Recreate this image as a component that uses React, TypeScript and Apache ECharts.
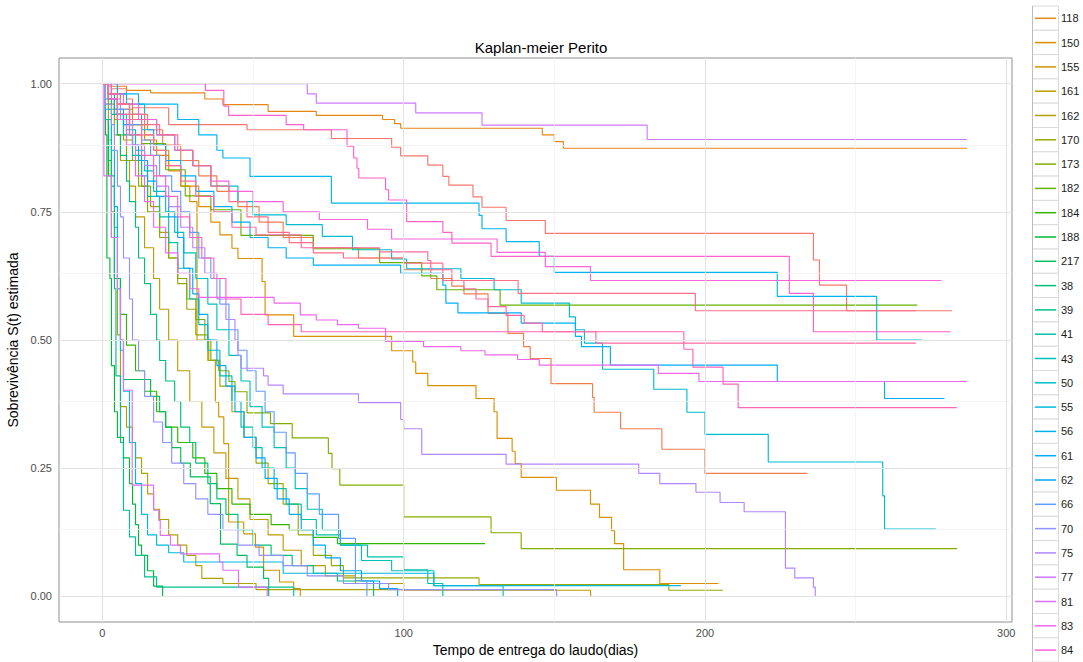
import React, { useEffect, useRef } from "react";
import * as echarts from "echarts";

// ---- data: Kaplan-Meier step points [time (days), S(t)] per group ----
const levels = ["101","112","118","150","155","161","162","170","173","182","184","188","217","38","39","41","43","50","55","56","61","62","66","70","75","77","81","83","84","86","87","9","94"];
const legendShown = ["118","150","155","161","162","170","173","182","184","188","217","38","39","41","43","50","55","56","61","62","66","70","75","77","81","83","84"];

const c101 = [[0,1],[3,0.99],[8,0.97],[10,0.953],[22,0.92],[48,0.91],[76,0.893],[96,0.876],[99,0.859],[108,0.841],[113,0.819],[115,0.802],[123,0.779],[126,0.759],[134,0.733],[147,0.708],[236,0.656],[238,0.607],[247,0.557],[282,0.557]];
const c112 = [[0,1],[2,0.98],[6,0.96],[10,0.94],[15,0.91],[20,0.88],[26,0.85],[32,0.82],[38,0.79],[45,0.76],[52,0.73],[60,0.7],[70,0.68],[85,0.66],[100,0.637],[109,0.62],[116,0.605],[120,0.59],[128,0.552],[134.6,0.513],[139.8,0.487],[142,0.464],[148.9,0.415],[162.7,0.388],[163.2,0.359],[172,0.327],[185.7,0.287],[200,0.24],[234,0.24]];
const c118 = [[0,1],[2,0.995],[8,0.987],[16,0.982],[34,0.97],[40,0.959],[55,0.946],[71,0.938],[93,0.93],[97,0.922],[99,0.913],[146,0.9],[150,0.887],[153,0.874],[287,0.874]];
const c150 = [[0,1],[2,0.98],[6,0.95],[10,0.92],[14,0.89],[18,0.86],[22,0.83],[26,0.8],[32,0.76],[36,0.73],[39,0.705],[43,0.679],[45,0.659],[53,0.614],[54,0.549],[63.5,0.507],[96,0.479],[103,0.457],[104,0.435],[108,0.411],[124,0.386],[130,0.36],[131,0.308],[136,0.283],[137,0.259],[139,0.232],[150.7,0.207],[162,0.18],[165,0.154],[169,0.128],[170,0.103],[173,0.052],[185,0.025],[204.5,0.025]];
const c155 = [[0,1],[2,0.97],[5,0.94],[9,0.92],[14,0.9],[17,0.87],[22,0.84],[26,0.8],[29,0.77],[31.4,0.5],[35.3,0.46],[37.5,0.379],[38.6,0.35],[40.3,0.298],[41.9,0.145],[46.9,0.122],[50.8,0.096],[53.5,0.051],[58.8,0.028],[63.5,0.015],[65.7,0]];
const c161 = [[0,1],[2,0.96],[4,0.9],[6,0.85],[9,0.8],[11,0.74],[14,0.68],[17,0.62],[19,0.56],[22,0.5],[25,0.44],[29,0.38],[33,0.33],[37,0.28],[41,0.23],[45,0.19],[49,0.15],[55,0.12],[60,0.09],[66,0.06],[74,0.04],[84,0.025],[100,0.012],[162,0.012],[162.1,0]];
const c162 = [[0,1],[1,0.96],[2,0.89],[3,0.75],[4,0.62],[5,0.51],[6,0.37],[8,0.33],[10,0.3],[11,0.27],[13,0.24],[15,0.2],[17,0.17],[19,0.15],[22,0.12],[25,0.1],[28,0.08],[31,0.06],[33,0.035],[40,0.025],[51,0.013],[100,0.013]];
const c170 = [[0,1],[2,0.97],[4,0.93],[7,0.89],[10,0.85],[13,0.8],[16,0.76],[19,0.71],[22,0.66],[25,0.61],[28,0.56],[31,0.51],[35,0.46],[39,0.41],[43,0.36],[47,0.31],[51,0.26],[55,0.22],[60,0.18],[65,0.12],[70,0.08],[76,0.06],[80,0.036],[125,0.023],[188,0.012],[206,0.012]];
const c173 = [[0,1],[2,0.95],[5,0.9],[8,0.85],[12,0.8],[15,0.75],[19,0.7],[22,0.66],[25,0.62],[28,0.58],[31,0.54],[34,0.5],[36,0.461],[38.6,0.44],[42,0.419],[44,0.399],[48,0.358],[55.8,0.337],[63,0.309],[75,0.279],[76.2,0.249],[78.8,0.217],[100,0.155],[129,0.124],[139,0.093],[283.6,0.093]];
const c182 = [[0,1],[2,0.97],[5,0.93],[9,0.9],[13,0.883],[21,0.832],[27.5,0.781],[36,0.754],[46,0.704],[70,0.678],[92,0.651],[106,0.625],[111,0.598],[132,0.568],[270.5,0.568]];
const c184 = [[0,1],[1,0.93],[2,0.82],[3,0.7],[4,0.62],[6,0.55],[8,0.49],[11,0.44],[14,0.4],[18,0.36],[21,0.33],[25,0.3],[30,0.27],[34,0.24],[38,0.21],[43,0.18],[49,0.16],[56,0.14],[62,0.13],[70,0.115],[78,0.103],[127,0.103]];
const c188 = [[0,1],[1,0.9],[1.5,0.66],[2.5,0.62],[3,0.45],[4,0.36],[5,0.31],[7,0.27],[9,0.22],[10,0.18],[11,0.14],[12,0.1],[13,0.08],[15,0.05],[17,0.02],[20,0]];
const c217 = [[0,1],[1,0.93],[2,0.85],[3,0.8],[4,0.72],[5,0.62],[6,0.5],[7,0.423],[16,0.39],[19,0.36],[21,0.33],[23,0.29],[26,0.26],[29.2,0.233],[35.8,0.181],[39.2,0.102],[44.7,0.08],[48,0.057],[53.5,0.035],[55.2,0]];
const c38 = [[0,1],[1,0.97],[3,0.94],[5,0.9],[6,0.86],[8,0.81],[9,0.77],[11,0.72],[12,0.66],[14,0.61],[16,0.55],[18,0.5],[19,0.46],[21,0.42],[24,0.38],[26,0.33],[29,0.3],[31,0.26],[35,0.22],[38,0.19],[41,0.16],[45,0.13],[50,0.1],[56,0.08],[63,0.06],[70,0.045],[78,0.03],[90,0]];
const c39 = [[0,1],[1,0.93],[3,0.82],[4,0.6],[4.5,0.43],[6,0.3],[7,0.168],[9,0.116],[11,0.08],[14,0.038],[18,0.018],[63,0.018],[63.5,0]];
const c41 = [[0,1],[2,0.97],[5,0.94],[7,0.9],[10,0.86],[13,0.82],[15,0.78],[19,0.74],[22,0.69],[25,0.64],[29,0.58],[32,0.53],[35,0.48],[39,0.43],[43,0.38],[46,0.33],[50,0.29],[53,0.25],[57,0.21],[61,0.18],[66,0.15],[71,0.12],[79,0.1],[88,0.077],[100,0.052],[108,0.025],[113,0]];
const c43 = [[0,1],[2,0.97],[4,0.94],[8,0.91],[11,0.87],[14,0.83],[17,0.79],[21,0.75],[24,0.71],[27,0.67],[31,0.62],[35,0.57],[38,0.52],[42,0.47],[46,0.42],[49,0.37],[53,0.33],[57,0.29],[61,0.25],[64,0.21],[68,0.17],[73,0.13],[79,0.1],[86,0.07],[96,0.05],[110,0.021],[133,0]];
const c50 = [[0,1],[3,0.98],[8,0.96],[14,0.93],[18,0.9],[24,0.87],[30,0.84],[36,0.8],[45,0.77],[50,0.744],[61,0.725],[73,0.702],[83,0.676],[96,0.658],[101,0.639],[119,0.62],[130,0.598],[139,0.572],[155,0.545],[157,0.52],[160,0.494],[166,0.443],[183,0.404],[194,0.359],[200,0.316],[221,0.262],[259,0.196],[259.6,0.131],[276.6,0.131]];
const c55 = [[0,1],[1,0.95],[3,0.87],[4,0.76],[5,0.6],[6,0.48],[7,0.4],[9,0.3],[11,0.22],[13,0.16],[15,0.12],[18,0.1],[22,0.085],[27,0.067],[60,0.045],[110,0.021],[192,0.021]];
const c56 = [[0,1],[5,0.98],[12,0.96],[25,0.93],[32,0.9],[38,0.87],[40,0.855],[49,0.819],[76,0.767],[125,0.743],[126,0.717],[134,0.692],[145,0.663],[150,0.632],[224,0.585],[257,0.5],[272,0.5]];
const c61 = [[0,1],[2,0.98],[5,0.96],[9,0.94],[13,0.91],[17,0.88],[21,0.85],[26,0.82],[31,0.79],[37,0.76],[43,0.73],[49,0.7],[55,0.68],[61,0.66],[70,0.646],[99,0.63],[113,0.607],[114,0.572],[118,0.553],[139,0.533],[157,0.507],[159,0.487],[168.6,0.451],[224,0.419],[259.6,0.386],[279.5,0.386]];
const c62 = [[0,1],[2,0.98],[4,0.95],[7,0.92],[10,0.88],[12,0.85],[15,0.81],[18,0.78],[22,0.74],[25,0.7],[27,0.64],[30,0.59],[32,0.55],[35,0.5],[38,0.45],[41,0.41],[44,0.36],[47,0.31],[51,0.27],[54,0.23],[58,0.19],[62,0.16],[66,0.13],[70,0.1],[74,0.075],[79,0.05],[86,0.03],[92,0.015],[98,0]];
const c66 = [[0,1],[3,0.97],[5,0.95],[9,0.92],[13,0.89],[16,0.86],[19,0.82],[23,0.79],[26,0.75],[29,0.71],[32,0.66],[36,0.62],[39,0.57],[42,0.52],[45,0.48],[48,0.44],[51,0.4],[54,0.36],[57,0.32],[61,0.28],[64,0.24],[68,0.2],[72,0.16],[78.4,0.113],[84,0.031],[87.8,0]];
const c70 = [[0,1],[1,0.96],[3,0.92],[4,0.87],[5,0.8],[6,0.74],[7,0.66],[9,0.58],[10,0.5],[12,0.44],[14,0.39],[17,0.34],[20,0.3],[23,0.26],[27,0.22],[31,0.19],[35,0.16],[40,0.13],[45,0.1],[52,0.08],[60,0.06],[68,0.04],[80,0.025],[95,0.013],[150.7,0.013],[150.8,0]];
const c75 = [[0,1],[3,0.97],[6,0.93],[10,0.88],[14,0.84],[18,0.8],[22,0.76],[26,0.72],[30,0.68],[34,0.63],[38,0.58],[41,0.54],[44,0.5],[45,0.47],[46,0.445],[53.5,0.43],[55,0.412],[60,0.395],[85,0.378],[99,0.345],[100,0.327],[106,0.277],[134,0.258],[178,0.24],[185,0.22],[197,0.203],[205,0.183],[213,0.165],[226.7,0.055],[229.8,0.036],[236,0.018],[236.6,0]];
const c77 = [[0,1],[68,0.98],[71,0.962],[104,0.943],[126,0.919],[180.8,0.891],[287,0.891]];
const c81 = [[0,1],[0.5,0.82],[3,0.7],[5,0.6],[6,0.5],[7,0.402],[9.9,0.217],[17,0.168],[18.7,0.148],[19.2,0.119],[22.6,0.1],[25.9,0.083],[38.9,0.067],[40,0.051],[45.2,0.018],[54.7,0]];
const c83 = [[0,1],[2,0.97],[5,0.93],[8,0.88],[11,0.82],[14,0.77],[17,0.72],[21,0.67],[25,0.63],[29,0.6],[32,0.583],[57,0.572],[65.7,0.549],[71,0.539],[78,0.53],[85,0.523],[94,0.497],[106.6,0.487],[119,0.479],[127,0.471],[137.8,0.462],[145,0.451],[184.5,0.435],[198,0.419],[287,0.419]];
const c84 = [[0,1],[3,0.98],[7,0.96],[12,0.93],[18,0.9],[24,0.87],[30,0.84],[36,0.81],[42,0.79],[50,0.77],[60,0.75],[72,0.735],[88,0.716],[96,0.697],[131,0.671],[147,0.643],[162,0.616],[278.5,0.616]];
const c86 = [[0,1],[34.2,0.987],[40.3,0.956],[41.9,0.938],[61,0.92],[66.8,0.91],[81.2,0.878],[83.4,0.855],[84.5,0.835],[85.1,0.816],[94,0.793],[95,0.773],[101,0.731],[113,0.71],[116,0.689],[129,0.663],[228,0.591],[236,0.516],[281.6,0.516]];
const c87 = [[0,1],[2,0.97],[5,0.94],[9,0.9],[13,0.86],[17,0.82],[21,0.78],[25,0.74],[29,0.7],[33,0.66],[37,0.62],[41,0.58],[46,0.55],[55,0.53],[66,0.516],[193,0.482],[196,0.447],[206,0.414],[211,0.368],[283.6,0.368]];
const c9 = [[0,1],[2,0.98],[5,0.96],[9,0.93],[13,0.9],[17,0.87],[21,0.84],[26,0.81],[31,0.78],[37,0.75],[43,0.72],[51,0.705],[66,0.68],[92,0.672],[108,0.655],[109,0.637],[116,0.616],[120,0.6],[124,0.58],[128,0.565],[134,0.548],[140,0.533],[146,0.516],[163.8,0.494],[270,0.494]];
const c94 = [[0,1],[2,0.98],[5,0.96],[9,0.94],[14,0.92],[19,0.9],[25,0.87],[30,0.84],[36,0.8],[42,0.77],[48,0.74],[55,0.71],[62,0.69],[70,0.67],[80,0.66],[100,0.65],[113,0.616],[138,0.591],[196.8,0.557],[270,0.557]];

const curves = [c101,c112,c118,c150,c155,c161,c162,c170,c173,c182,c184,c188,c217,c38,c39,c41,c43,c50,c55,c56,c61,c62,c66,c70,c75,c77,c81,c83,c84,c86,c87,c9,c94];

const xTicks = [0, 100, 200, 300];
const yTicks = [0, 0.25, 0.5, 0.75, 1];
const xMinor = [50, 150, 250];
const yMinor = [0.125, 0.375, 0.625, 0.875];

// ggplot2-like hue palette (HCL, c=100, l=65)
function hcl2hex(h: number, c: number, l: number): string {
  const hr = (h * Math.PI) / 180;
  const L = l, U = c * Math.cos(hr), V = c * Math.sin(hr);
  const Xn = 95.047, Yn = 100, Zn = 108.883;
  const Y = Yn * (L > 8 ? Math.pow((L + 16) / 116, 3) : L / 903.3);
  const den = Xn + 15 * Yn + 3 * Zn;
  const un = (4 * Xn) / den, vn = (9 * Yn) / den;
  const u = U / (13 * L) + un, v = V / (13 * L) + vn;
  const X = (9 * Y * u) / (4 * v);
  const Z = -X / 3 - 5 * Y + (3 * Y) / v;
  const x = X / 100, y = Y / 100, z = Z / 100;
  const lin = [
    3.240479 * x - 1.53715 * y - 0.498535 * z,
    -0.969256 * x + 1.875992 * y + 0.041556 * z,
    0.055648 * x - 0.204043 * y + 1.057311 * z,
  ];
  return "#" + lin.map((t) => {
    let g = t <= 0.0031308 ? 12.92 * t : 1.055 * Math.pow(t, 1 / 2.4) - 0.055;
    g = Math.max(0, Math.min(1, g));
    return Math.round(g * 255).toString(16).padStart(2, "0");
  }).join("");
}

const FONT = "'Liberation Sans', Arial, sans-serif";

export default function App() {
  const ref = useRef<HTMLDivElement>(null);
  useEffect(() => {
    if (!ref.current) return;
    const chart = echarts.init(ref.current, undefined, { renderer: "svg" });
    const n = levels.length;
    const colors = levels.map((_, i) => hcl2hex(15 + (i * 360) / n, 100, 65));

    const series: any[] = [
      {
        type: "line", name: "_minor", data: [], z: 1, silent: true,
        markLine: {
          silent: true, symbol: "none", animation: false, label: { show: false },
          lineStyle: { color: "#F2F2F2", width: 0.8, type: "solid" },
          data: [...xMinor.map((v) => ({ xAxis: v })), ...yMinor.map((v) => ({ yAxis: v }))],
        },
      },
      {
        type: "line", name: "_major", data: [], z: 1, silent: true,
        markLine: {
          silent: true, symbol: "none", animation: false, label: { show: false },
          lineStyle: { color: "#E3E3E3", width: 1.1, type: "solid" },
          data: [...xTicks.map((v) => ({ xAxis: v })), ...yTicks.map((v) => ({ yAxis: v }))],
        },
      },
      ...curves.map((d, i) => ({
        type: "line",
        name: levels[i],
        data: d,
        step: "end",
        showSymbol: false,
        symbol: "none",
        color: colors[i],
        lineStyle: { width: 1.15, color: colors[i] },
        z: 2,
        silent: true,
      })),
    ];

    const rowH = 24.3;
    const keyTop = 6;
    const graphics: any[] = [
      {
        type: "text", x: 541, y: 47, z: 10,
        style: { text: "Kaplan-meier Perito", font: `15px ${FONT}`, fill: "#000", textAlign: "center", textVerticalAlign: "middle" },
      },
    ];
    legendShown.forEach((_, k) => {
      graphics.push({
        type: "rect", z: 0, silent: true,
        shape: { x: 1032.5, y: keyTop + k * rowH, width: 26, height: rowH },
        style: { fill: "#fff", stroke: "#DADADA", lineWidth: 1 },
      });
    });
    graphics.push({
      type: "line", z: 1, silent: true,
      shape: { x1: 1032.5, y1: keyTop, x2: 1032.5, y2: 662 },
      style: { stroke: "#BDBDBD", lineWidth: 1 },
    });

    chart.setOption({
      animation: false,
      backgroundColor: "#fff",
      grid: {
        left: 59, right: 71, top: 58, bottom: 40,
        containLabel: false,
        outerBoundsMode: "none",
        show: true, borderColor: "#8F8F8F", borderWidth: 1, backgroundColor: "#fff",
      },
      xAxis: {
        type: "value", min: -14.4, max: 301.9,
        name: "Tempo de entrega do laudo(dias)", nameLocation: "middle", nameGap: 21,
        nameTextStyle: { fontFamily: FONT, fontSize: 14, color: "#000" },
        axisLine: { show: false },
        axisTick: { show: true, length: 4, customValues: xTicks, lineStyle: { color: "#333" } },
        axisLabel: { customValues: xTicks, fontFamily: FONT, fontSize: 11, color: "#4D4D4D", margin: 5 },
        splitLine: { show: false },
      },
      yAxis: {
        type: "value", min: -0.05, max: 1.05,
        name: "Sobrevivência S(t) estimada", nameLocation: "middle", nameGap: 30, nameRotate: 90,
        nameTextStyle: { fontFamily: FONT, fontSize: 14, color: "#000" },
        axisLine: { show: false },
        axisTick: { show: true, length: 4, customValues: yTicks, lineStyle: { color: "#333" } },
        axisLabel: {
          customValues: yTicks, fontFamily: FONT, fontSize: 11, color: "#4D4D4D", margin: 7,
          formatter: (v: number) => v.toFixed(2),
        },
        splitLine: { show: false },
      },
      legend: {
        data: legendShown,
        orient: "vertical",
        left: 1035, top: 11.3,
        padding: 0,
        itemWidth: 21, itemHeight: 1.5, itemGap: rowH - 14,
        icon: "rect",
        selectedMode: false,
        textStyle: { fontFamily: FONT, fontSize: 11, color: "#1A1A1A", lineHeight: 14 },
        z: 5,
      },
      graphic: graphics,
      series,
    });
    return () => chart.dispose();
  }, []);
  return <div ref={ref} style={{ position: "fixed", left: 0, top: 0, width: 1083, height: 662 }} />;
}
